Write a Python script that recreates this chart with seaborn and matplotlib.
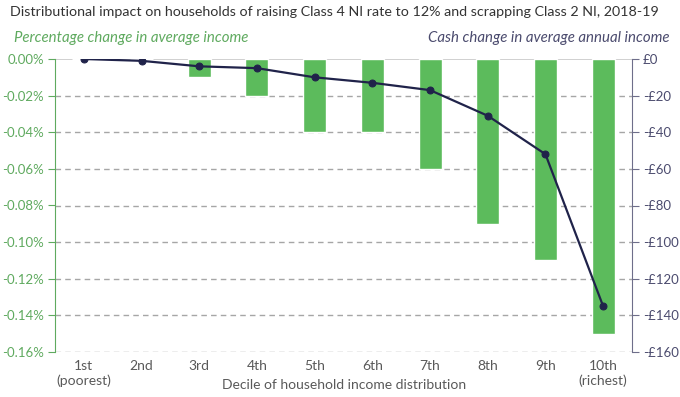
import numpy as np
import pandas as pd
import matplotlib
matplotlib.use("Agg")
import matplotlib.pyplot as plt
import seaborn as sns
from matplotlib.ticker import FuncFormatter, MultipleLocator

deciles = ["1st\n(poorest)", "2nd", "3rd", "4th", "5th", "6th", "7th", "8th", "9th", "10th\n(richest)"]
pct_change = [0.0, 0.0, -0.01, -0.02, -0.04, -0.04, -0.06, -0.09, -0.11, -0.15]
cash_change = [0, -1, -4, -5, -10, -13, -17, -31, -52, -135]

sns.set_style("white")
plt.rcParams["font.family"] = ["Lato", "DejaVu Sans"]
plt.rcParams["axes.unicode_minus"] = False

GREEN = "#5cbb5c"
GREEN_TXT = "#5faa5f"
NAVY = "#20234a"
NAVY_TXT = "#4b4b6e"
GRAY = "#595959"

df = pd.DataFrame({"decile": deciles, "pct": pct_change, "cash": cash_change})

fig = plt.figure(figsize=(6.8, 3.97), dpi=100)
ax = fig.add_axes([55/680, 1 - 352/397, (632-55)/680, (352-59)/397])

sns.barplot(data=df, x="decile", y="pct", color=GREEN, width=0.4, ax=ax, saturation=1)
ax.set_ylim(-0.16, 0)
ax.yaxis.set_major_locator(MultipleLocator(0.02))
ax.yaxis.set_major_formatter(FuncFormatter(lambda v, p: f"{v:.2f}%" if abs(v) > 1e-9 else "0.00%"))
for y in np.arange(-0.16, 0.0, 0.02):
    ax.axhline(y, color="#a6a6a6", lw=1, ls=(0, (4, 3)), zorder=0)
ax.axhline(0, color="#c8c8c8", lw=1.2, zorder=0)
ax.set_xlim(-0.5, 9.5)

ax2 = ax.twinx()
sns.lineplot(x=np.arange(len(deciles)), y=df["cash"], ax=ax2, color=NAVY, lw=1.6,
             marker="o", markersize=5, markeredgecolor=NAVY)
ax2.set_ylim(-160, 0)
ax2.yaxis.set_major_locator(MultipleLocator(20))
ax2.yaxis.set_major_formatter(FuncFormatter(lambda v, p: "£0" if abs(v) < 1e-9 else f"-£{abs(v):.0f}"))
ax2.set_xlim(-0.5, 9.5)

for a in (ax, ax2):
    for s in ("top", "bottom"):
        a.spines[s].set_visible(False)
ax.spines["right"].set_visible(False)
ax2.spines["left"].set_visible(False)
ax.spines["left"].set_color(GREEN_TXT)
ax2.spines["right"].set_color("#6e6e8a")
ax.tick_params(axis="y", colors=GREEN_TXT, labelcolor=GREEN_TXT, labelsize=9.5, length=5, direction="out", left=True, width=0.8, pad=3)
ax2.tick_params(axis="y", colors="#6e6e8a", labelcolor=NAVY_TXT, labelsize=9.5, length=5, direction="out", right=True, width=0.8, pad=3)
ax.tick_params(axis="x", labelsize=10, labelcolor=GRAY, length=0, pad=6)
ax.set_ylabel("")
ax2.set_ylabel("")
ax.set_xlabel("")
fig.text(344/680, 1 - 385/397, "Decile of household income distribution", fontsize=10, color=GRAY,
         ha="center", va="center")

fig.text(10/680, 1 - 12/397, "Distributional impact on households of raising Class 4 NI rate to 12% and scrapping Class 2 NI, 2018-19",
         fontsize=10.3, color="#333333", va="center", ha="left")
fig.text(14/680, 1 - 38/397, "Percentage change in average income", fontsize=10.8, color=GREEN_TXT,
         style="italic", va="center", ha="left")
fig.text(670/680, 1 - 38/397, "Cash change in average annual income", fontsize=10.8, color=NAVY_TXT,
         style="italic", va="center", ha="right")

fig.savefig("out.png", dpi=100)
